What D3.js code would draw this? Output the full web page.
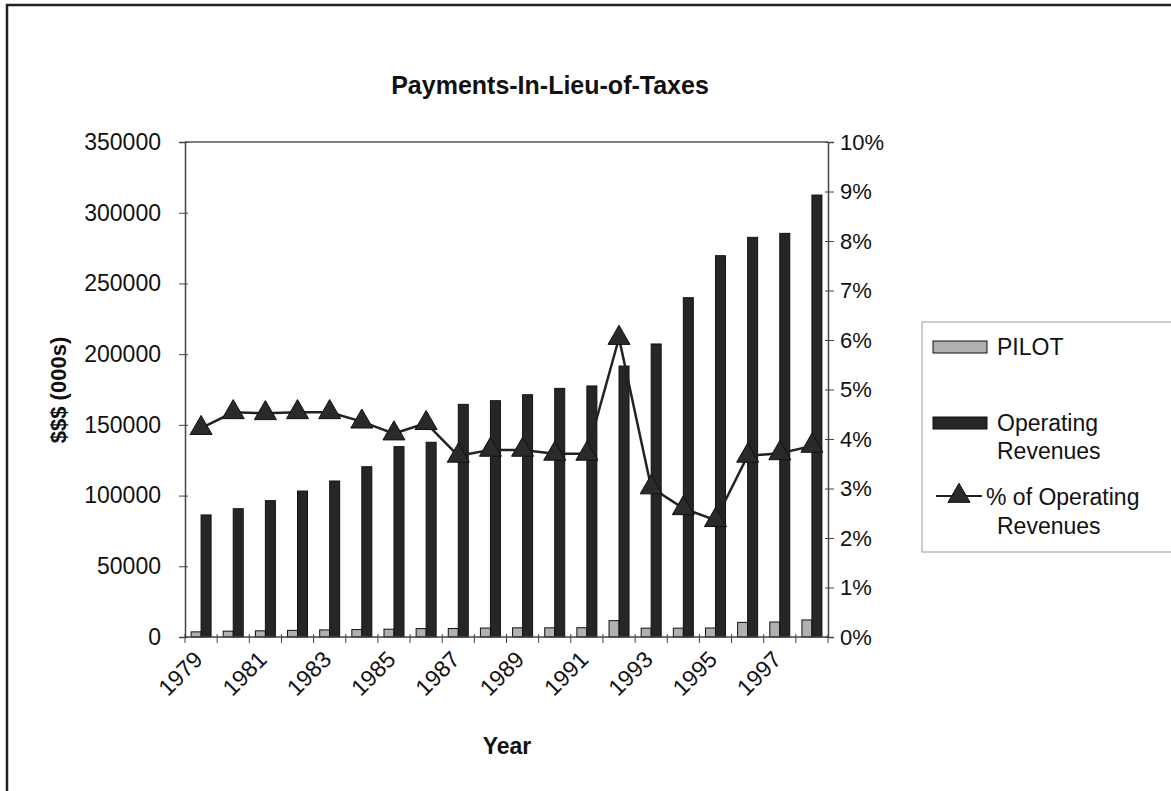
<!DOCTYPE html>
<html><head><meta charset="utf-8">
<script src="https://cdn.jsdelivr.net/npm/d3@7"></script>
<style>body{margin:0;background:#fff}svg{display:block}text{font-family:"Liberation Sans",Arial,sans-serif;fill:#111}</style>
</head><body><svg id="c" width="1171" height="791"></svg>
<script>
const years = ["1979","1980","1981","1982","1983","1984","1985","1986","1987","1988","1989","1990","1991","1992","1993","1994","1995","1996","1997","1998"];
const pilot = [3640,4120,4360,4690,5010,5240,5530,5950,6020,6320,6480,6500,6570,11570,6260,6240,6360,10340,10590,12060];
const operatingRevenues = [86300,90700,96400,103200,110300,120400,134600,137700,164500,167100,171300,175800,177500,191600,207200,239900,269600,282600,285400,312500];
const pctOfRevenues = [4.22,4.54,4.52,4.54,4.54,4.35,4.11,4.32,3.66,3.78,3.78,3.70,3.70,6.04,3.02,2.60,2.36,3.66,3.71,3.86];
const leftTicks = [0,50000,100000,150000,200000,250000,300000,350000];
const rightTicks = [0,1,2,3,4,5,6,7,8,9,10];
const yearLabels = ["1979","1981","1983","1985","1987","1989","1991","1993","1995","1997"];

const svg = d3.select("#c");
const L = 185, R = 828, T = 142, B = 637;
const x = d3.scaleBand().domain(years).range([L, R]).paddingInner(0).paddingOuter(0);
const y = d3.scaleLinear().domain([0, 350000]).range([B, T]);
const y2 = d3.scaleLinear().domain([0, 10]).range([B, T]);

svg.append("rect").attr("x",7).attr("y",5).attr("width",1200).attr("height",800)
  .attr("fill","none").attr("stroke","#222").attr("stroke-width",2.5);

svg.append("line").attr("x1",L).attr("x2",R).attr("y1",T).attr("y2",T).attr("stroke","#555").attr("stroke-width",1.5);

const bw = 10;
const g = svg.append("g");
g.selectAll("rect.p").data(years).join("rect").attr("class","p")
  .attr("x", d => x(d) + x.bandwidth()/2 - bw)
  .attr("y", (d,i) => y(pilot[i]))
  .attr("width", bw).attr("height", (d,i) => B - y(pilot[i]))
  .attr("fill","#b0b0b0").attr("stroke","#111").attr("stroke-width",1);
g.selectAll("rect.o").data(years).join("rect").attr("class","o")
  .attr("x", d => x(d) + x.bandwidth()/2)
  .attr("y", (d,i) => y(operatingRevenues[i]))
  .attr("width", bw).attr("height", (d,i) => B - y(operatingRevenues[i]))
  .attr("fill","#262626").attr("stroke","#111").attr("stroke-width",1);

const ax = d3.axisLeft(y).tickValues(leftTicks).tickFormat(d3.format("d")).tickSize(6).tickPadding(18);
const gl = svg.append("g").attr("transform",`translate(${L},0)`).call(ax);
gl.select(".domain").attr("stroke","#444").attr("stroke-width",1.5);
gl.selectAll(".tick line").attr("stroke","#444").attr("x2",-6).attr("x1",3);
gl.selectAll(".tick text").style("font-size","23px").attr("fill","#111");

const ar = d3.axisRight(y2).tickValues(rightTicks).tickFormat(d => d + "%").tickSize(6).tickPadding(6);
const gr = svg.append("g").attr("transform",`translate(${R},0)`).call(ar);
gr.select(".domain").attr("stroke","#444").attr("stroke-width",1.5);
gr.selectAll(".tick line").attr("stroke","#444").attr("x1",-3).attr("x2",6);
gr.selectAll(".tick text").style("font-size","22px").attr("fill","#111");

const bx = svg.append("g");
bx.append("line").attr("x1",L).attr("x2",R).attr("y1",B).attr("y2",B).attr("stroke","#444").attr("stroke-width",1.5);
bx.selectAll("line.t").data(years.concat(["end"])).join("line").attr("class","t")
  .attr("x1",(d,i)=> L + i*x.bandwidth()).attr("x2",(d,i)=> L + i*x.bandwidth())
  .attr("y1",B-3).attr("y2",B+6).attr("stroke","#444").attr("stroke-width",1);
bx.selectAll("text").data(yearLabels).join("text")
  .attr("transform", d => `translate(${x(d)+x.bandwidth()/2+3},${B+24}) rotate(-45)`)
  .attr("text-anchor","end").style("font-size","23px").text(d => d);

const line = d3.line().x((d,i)=> x(years[i]) + x.bandwidth()/2).y(d => y2(d));
svg.append("path").datum(pctOfRevenues).attr("d", line).attr("fill","none").attr("stroke","#222").attr("stroke-width",2.5);
const tri = d3.symbol().type(d3.symbolTriangle).size(210);
svg.selectAll("path.m").data(pctOfRevenues).join("path").attr("class","m")
  .attr("d", tri).attr("transform",(d,i)=>`translate(${x(years[i]) + x.bandwidth()/2},${y2(d)})`)
  .attr("fill","#2a2a2a").attr("stroke","#111");

svg.append("text").attr("x",550).attr("y",94).attr("text-anchor","middle")
  .style("font-size","25px").style("font-weight","bold").text("Payments-In-Lieu-of-Taxes");
svg.append("text").attr("transform","translate(66,390) rotate(-90)").attr("text-anchor","middle")
  .style("font-size","22px").style("font-weight","bold").text("$$$ (000s)");
svg.append("text").attr("x",507).attr("y",754).attr("text-anchor","middle")
  .style("font-size","23px").style("font-weight","bold").text("Year");

const lg = svg.append("g");
lg.append("rect").attr("x",922).attr("y",322).attr("width",260).attr("height",230)
  .attr("fill","#fff").attr("stroke","#999").attr("stroke-width",1);
lg.append("rect").attr("x",933).attr("y",341).attr("width",54).attr("height",12).attr("fill","#b0b0b0").attr("stroke","#111");
lg.append("text").attr("x",997).attr("y",355).style("font-size","23px").text("PILOT");
lg.append("rect").attr("x",933).attr("y",417).attr("width",54).attr("height",12).attr("fill","#262626").attr("stroke","#111");
lg.append("text").attr("x",997).attr("y",431).style("font-size","23px").text("Operating");
lg.append("text").attr("x",997).attr("y",459).style("font-size","23px").text("Revenues");
lg.append("line").attr("x1",936).attr("x2",982).attr("y1",496).attr("y2",496).attr("stroke","#222").attr("stroke-width",2);
lg.append("path").attr("d",tri).attr("transform","translate(959,496)").attr("fill","#2a2a2a").attr("stroke","#111");
lg.append("text").attr("x",986).attr("y",505).style("font-size","23px").text("% of Operating");
lg.append("text").attr("x",997).attr("y",534).style("font-size","23px").text("Revenues");
</script></body></html>
